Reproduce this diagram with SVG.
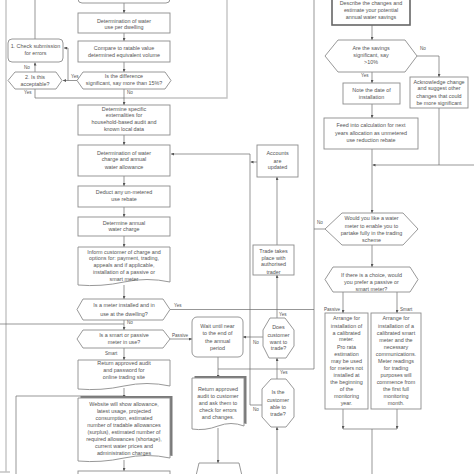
<svg xmlns="http://www.w3.org/2000/svg" width="474" height="474" viewBox="0 0 474 474">
<defs>
<style>
.b{fill:#fff;stroke:#8c8c8c;stroke-width:0.9}
.bd{fill:#fff;stroke:#666;stroke-width:1.6}
.sh{fill:#7a7a7a;stroke:none}
.t{font-family:"Liberation Sans",Arial,sans-serif;font-size:5.4px;fill:#555;text-anchor:middle}
.l{font-family:"Liberation Sans",Arial,sans-serif;font-size:4.6px;fill:#555}
.c{fill:none;stroke:#6a6a6a;stroke-width:0.7}
.f{fill:none;stroke:#c4c4c4;stroke-width:1.4}
</style>
<marker id="a" viewBox="0 0 6 6" refX="6" refY="3" markerUnits="userSpaceOnUse" markerWidth="3" markerHeight="3" orient="auto"><path d="M0,0 L6,3 L0,6 Z" fill="#555"/></marker>
</defs>
<rect width="474" height="474" fill="#fff"/>

<g id="frames">
<path class="f" d="M6,0 V472 M0,472 H10"/>
<path class="f" d="M124,98 H227 V0"/>
</g>

<g id="connectors">
<path class="c" d="M124,3 V13" marker-end="url(#a)"/>
<path class="c" d="M124,33 V41" marker-end="url(#a)"/>
<path class="c" d="M124,62 V72" marker-end="url(#a)"/>
<path class="c" d="M77,80.5 H63" marker-end="url(#a)"/>
<path class="c" d="M68,80.5 V48 H64" marker-end="url(#a)"/>
<path class="c" d="M35,72 V62.5" marker-end="url(#a)"/>
<path class="c" d="M35,39 V0"/>
<path class="c" d="M35,89 V98 H124"/>
<path class="c" d="M124,89 V105" marker-end="url(#a)"/>
<path class="c" d="M124,135 V145" marker-end="url(#a)"/>
<path class="c" d="M124,176 V186" marker-end="url(#a)"/>
<path class="c" d="M124,207 V217" marker-end="url(#a)"/>
<path class="c" d="M124,236 V247" marker-end="url(#a)"/>
<path class="c" d="M124,285 V299" marker-end="url(#a)"/>
<path class="c" d="M0,324 H124"/>
<path class="c" d="M124,320 V330" marker-end="url(#a)"/>
<path class="c" d="M170,309.5 H314"/>
<path class="c" d="M170,339 H192" marker-end="url(#a)"/>
<path class="c" d="M124,348 V360" marker-end="url(#a)"/>
<path class="c" d="M16,474 V396 H124"/>
<path class="c" d="M124,388 V398" marker-end="url(#a)"/>
<path class="c" d="M124,460 V471" marker-end="url(#a)"/>
<path class="c" d="M218,357 V378" marker-end="url(#a)"/>
<path class="c" d="M314,0 V369 H218"/>
<path class="c" d="M325,229 H314"/>
<path class="c" d="M218,428 V463" marker-end="url(#a)"/>
<path class="c" d="M262,405 H250 V154 H171" marker-end="url(#a)"/>
<path class="c" d="M257,162 H250.5" marker-end="url(#a)"/>
<path class="c" d="M277,245 V177" marker-end="url(#a)"/>
<path class="c" d="M277,318 V275" marker-end="url(#a)"/>
<path class="c" d="M263,337 H243" marker-end="url(#a)"/>
<path class="c" d="M277,379 V358" marker-end="url(#a)"/>
<path class="c" d="M277,474 V427" marker-end="url(#a)"/>
<path class="c" d="M372,25 V40" marker-end="url(#a)"/>
<path class="c" d="M417,56 H439 V77" marker-end="url(#a)"/>
<path class="c" d="M372,72 V83" marker-end="url(#a)"/>
<path class="c" d="M372,104 V118" marker-end="url(#a)"/>
<path class="c" d="M372,149 V213" marker-end="url(#a)"/>
<path class="c" d="M439,108 V165 H372.5" marker-end="url(#a)"/>
<path class="c" d="M439,165 H474"/>
<path class="c" d="M372,245 V267" marker-end="url(#a)"/>
<path class="c" d="M343,292 V313" marker-end="url(#a)"/>
<path class="c" d="M397,292 V313" marker-end="url(#a)"/>
<path class="c" d="M343,409 V429" marker-end="url(#a)"/>
<path class="c" d="M397,409 V429" marker-end="url(#a)"/>
<path class="c" d="M343,429 H397 M372,429 V474"/>
</g>

<g id="labels">
<text class="l" x="71" y="78">Yes</text>
<text class="l" x="24" y="69">No</text>
<text class="l" x="24" y="94">Yes</text>
<text class="l" x="127" y="94">No</text>
<text class="l" x="174" y="307">Yes</text>
<text class="l" x="127" y="324">No</text>
<text class="l" x="172" y="337">Passive</text>
<text class="l" x="105" y="355">Smart</text>
<text class="l" x="279" y="316">Yes</text>
<text class="l" x="253" y="344">No</text>
<text class="l" x="280" y="374">Yes</text>
<text class="l" x="253" y="411">No</text>
<text class="l" x="420" y="50">No</text>
<text class="l" x="361" y="77">Yes</text>
<text class="l" x="317" y="224">No</text>
<text class="l" x="324" y="311">Passive</text>
<text class="l" x="400" y="311">Smart</text>
</g>

<g id="n-top"><rect class="b" x="78" y="-12" width="92" height="15" rx="4"/></g>
<g id="n-use"><rect class="b" x="78" y="13" width="92" height="20"/><text class="t" x="124" y="22.5">Determination of water</text><text class="t" x="124" y="29.3">use per dwelling</text></g>
<g id="n-compare"><rect class="b" x="78" y="41" width="92" height="21"/><text class="t" x="124" y="50.3">Compare to ratable value</text><text class="t" x="124" y="56.7">determined equivalent volume</text></g>
<g id="n-diff"><polygon class="b" points="83,72 165,72 171,80.5 165,89 83,89 77,80.5"/><text class="t" x="124" y="78">Is the difference</text><text class="t" x="124" y="84.5">significant, say more than 15%?</text></g>
<g id="n-check"><rect class="b" x="8" y="39" width="55" height="23" rx="4"/><text class="t" x="35.5" y="48">1. Check submission</text><text class="t" x="35.5" y="54.7">for errors</text></g>
<g id="n-accept"><polygon class="b" points="15,72 56,72 62,80.5 56,89 15,89 8,80.5"/><text class="t" x="35" y="79.3">2. Is this</text><text class="t" x="35" y="86">acceptable?</text></g>
<g id="n-extern"><rect class="b" x="78" y="105" width="92" height="30"/><text class="t" x="124" y="110.5">Determine specific</text><text class="t" x="124" y="117.2">externalities for</text><text class="t" x="124" y="124.4">household-based audit and</text><text class="t" x="124" y="131.2">known local data</text></g>
<g id="n-charge"><rect class="b" x="78" y="145" width="92" height="31"/><text class="t" x="124" y="154.7">Determination of water</text><text class="t" x="124" y="161.4">charge and annual</text><text class="t" x="124" y="168.5">water allowance</text></g>
<g id="n-deduct"><rect class="b" x="78" y="186" width="92" height="21"/><text class="t" x="124" y="193.7">Deduct any un-metered</text><text class="t" x="124" y="201">use rebate</text></g>
<g id="n-annual"><rect class="b" x="78" y="217" width="92" height="19"/><text class="t" x="124" y="224.7">Determine annual</text><text class="t" x="124" y="231.3">water charge</text></g>
<g id="n-inform"><path class="b" d="M78,247 H170 V282 Q147,277 124,282 T78,285 Z"/><text class="t" x="124" y="253.7">Inform customer of charge and</text><text class="t" x="124" y="260.4">options for: payment, trading,</text><text class="t" x="124" y="267.1">appeals and if applicable,</text><text class="t" x="124" y="273.8">installation of a passive or</text><text class="t" x="124" y="280.5">smart meter</text></g>
<g id="n-installed"><polygon class="b" points="83,299 163,299 170,309.5 163,320 83,320 77,309.5"/><text class="t" x="124" y="307">Is a meter installed and in</text><text class="t" x="124" y="316">use at the dwelling?</text></g>
<g id="n-smartpassive"><polygon class="b" points="83,330 163,330 170,339 163,348 83,348 77,339"/><text class="t" x="124" y="337">Is a smart or passive</text><text class="t" x="124" y="343.7">meter in use?</text></g>
<g id="n-password"><path class="b" d="M78,360 H170 V386 Q147,381 124,386 T78,389 Z"/><text class="t" x="124" y="365.3">Return approved audit</text><text class="t" x="124" y="372">and password for</text><text class="t" x="124" y="378.7">online trading site</text></g>
<g id="n-website"><path class="sh" d="M80.5,396 H172.5 V456 Q149.5,451 126.5,456 T80.5,458 Z"/><path class="b" d="M78,398 H170 V458 Q147,453 124,458 T78,461 Z"/><text class="t" x="124" y="406">Website will show allowance,</text><text class="t" x="124" y="413">latest usage, projected</text><text class="t" x="124" y="420">consumption, estimated</text><text class="t" x="124" y="427">number of tradable allowances</text><text class="t" x="124" y="434">(surplus), estimated number of</text><text class="t" x="124" y="441">required allowances (shortage),</text><text class="t" x="124" y="448">current water prices and</text><text class="t" x="124" y="455">administration charges</text></g>
<g id="n-next"><rect class="b" x="78" y="471" width="92" height="12"/></g>

<g id="n-wait"><rect class="b" x="192" y="317" width="51" height="40" rx="5"/><text class="t" x="217.5" y="328">Wait until near</text><text class="t" x="217.5" y="335.4">to the end of</text><text class="t" x="217.5" y="342.8">the annual</text><text class="t" x="217.5" y="350.2">period</text></g>
<g id="n-returnaudit"><path class="sh" d="M194.5,376 H246.5 V424 Q233.5,419 220.5,424 T194.5,426 Z"/><path class="b" d="M192,378 H244 V426 Q231,421 218,426 T192,429 Z"/><text class="t" x="218" y="391">Return approved</text><text class="t" x="218" y="397.8">audit to customer</text><text class="t" x="218" y="404.7">and ask them to</text><text class="t" x="218" y="411.6">check for errors</text><text class="t" x="218" y="418.5">and changes.</text></g>
<g id="n-manual"><polygon class="b" points="199,463 239,463 243,480 195,480"/></g>
<g id="n-accounts"><rect class="b" x="257" y="145" width="41" height="32"/><text class="t" x="277.5" y="155.3">Accounts</text><text class="t" x="277.5" y="162.7">are</text><text class="t" x="277.5" y="169.3">updated</text></g>
<g id="n-trade"><rect class="b" x="253" y="245" width="41" height="30"/><text class="t" x="273.5" y="252.7">Trade takes</text><text class="t" x="273.5" y="259.7">place with</text><text class="t" x="273.5" y="266.3">authorised</text><text class="t" x="273.5" y="273.5">trader</text></g>
<g id="n-want"><polygon class="b" points="270,318 285,318 294,330 294,346 286,358 269,358 263,346 263,330"/><text class="t" x="278.5" y="329.3">Does</text><text class="t" x="278.5" y="337">customer</text><text class="t" x="278.5" y="343.7">want to</text><text class="t" x="278.5" y="350.3">trade?</text></g>
<g id="n-able"><polygon class="b" points="271,379 286,379 294,389 294,417 286,427 271,427 262,417 262,389"/><text class="t" x="278" y="393.7">Is the</text><text class="t" x="278" y="402">customer</text><text class="t" x="278" y="408.7">able to</text><text class="t" x="278" y="416">trade?</text></g>

<g id="n-describe"><rect class="bd" x="332" y="-12" width="78" height="37"/><text class="t" x="371" y="4.7">Describe the changes and</text><text class="t" x="371" y="12">estimate your potential</text><text class="t" x="371" y="18.7">annual water savings</text></g>
<g id="n-savings"><polygon class="b" points="338,40 405,40 417,56 405,72 338,72 325,56"/><text class="t" x="371" y="50.3">Are the savings</text><text class="t" x="371" y="57">significant, say</text><text class="t" x="371" y="64.3">&gt;10%</text></g>
<g id="n-ack"><rect class="b" x="410" y="77" width="58" height="31"/><text class="t" x="439" y="83.5">Acknowledge change</text><text class="t" x="439" y="90.3">and suggest other</text><text class="t" x="439" y="97.5">changes that could</text><text class="t" x="439" y="104.5">be more significant</text></g>
<g id="n-note"><rect class="b" x="343" y="83" width="57" height="21"/><text class="t" x="371.5" y="92">Note the date of</text><text class="t" x="371.5" y="99.3">installation</text></g>
<g id="n-feed"><rect class="b" x="324" y="118" width="94" height="31"/><text class="t" x="371" y="127">Feed into calculation for next</text><text class="t" x="371" y="135">years allocation as unmetered</text><text class="t" x="371" y="142">use reduction rebate</text></g>
<g id="n-would"><polygon class="b" points="342,213 403,213 418,229 403,245 342,245 325,229"/><text class="t" x="371.5" y="220.3">Would you like a water</text><text class="t" x="371.5" y="228">meter to enable you to</text><text class="t" x="371.5" y="235.3">partake fully in the trading</text><text class="t" x="371.5" y="242">scheme</text></g>
<g id="n-choice"><polygon class="b" points="333,267 410,267 418,279.5 410,292 333,292 325,279.5"/><text class="t" x="371.5" y="277">If there is a choice, would</text><text class="t" x="371.5" y="284.3">you prefer a passive or</text><text class="t" x="371.5" y="291">smart meter?</text></g>
<g id="n-passive"><rect class="b" x="325" y="313" width="43" height="96"/>
<text class="t" x="346.5" y="320.3">Arrange for</text><text class="t" x="346.5" y="327.5">installation of</text><text class="t" x="346.5" y="334.7">a calibrated</text><text class="t" x="346.5" y="341.3">meter.</text><text class="t" x="346.5" y="348.7">Pro rata</text><text class="t" x="346.5" y="356">estimation</text><text class="t" x="346.5" y="363">may be used</text><text class="t" x="346.5" y="369.7">for meters not</text><text class="t" x="346.5" y="377">installed at</text><text class="t" x="346.5" y="384.3">the beginning</text><text class="t" x="346.5" y="391.3">of the</text><text class="t" x="346.5" y="398">monitoring</text><text class="t" x="346.5" y="405.3">year.</text></g>
<g id="n-smart"><rect class="b" x="371" y="313" width="50" height="96"/>
<text class="t" x="396" y="320.3">Arrange for</text><text class="t" x="396" y="327.5">installation of a</text><text class="t" x="396" y="334.7">calibrated smart</text><text class="t" x="396" y="341.7">meter and the</text><text class="t" x="396" y="348.8">necessary</text><text class="t" x="396" y="355.9">communications.</text><text class="t" x="396" y="363">Meter readings</text><text class="t" x="396" y="370">for trading</text><text class="t" x="396" y="377">purposes will</text><text class="t" x="396" y="384">commence from</text><text class="t" x="396" y="391.3">the first full</text><text class="t" x="396" y="398.3">monitoring</text><text class="t" x="396" y="405.3">month.</text></g>
</svg>
